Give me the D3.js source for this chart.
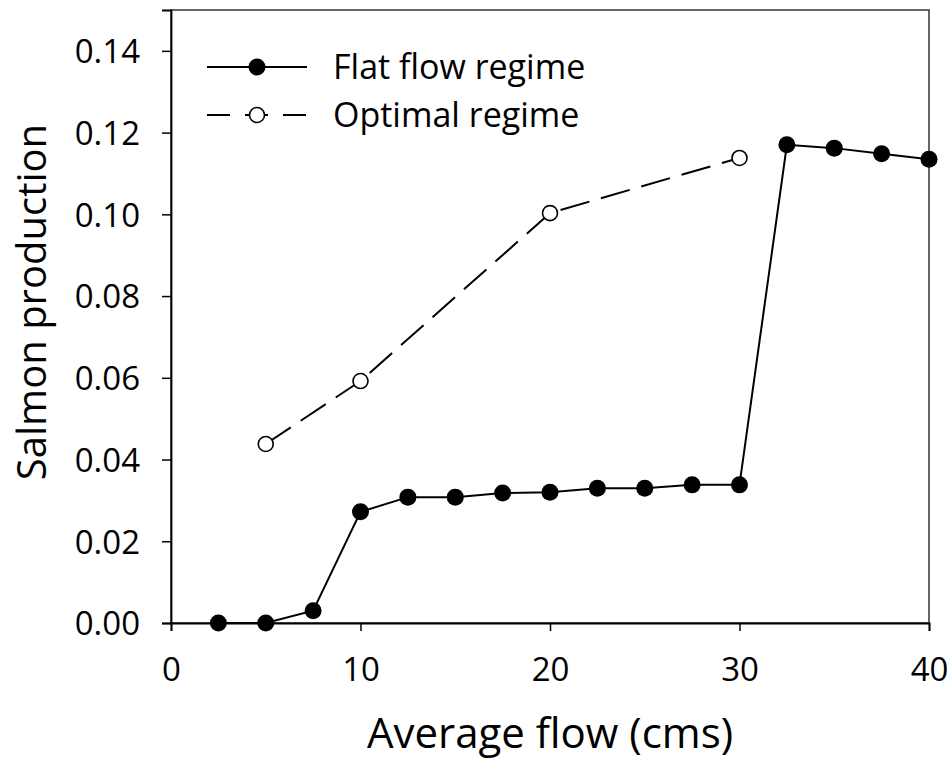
<!DOCTYPE html>
<html>
<head>
<meta charset="utf-8">
<script src="https://cdn.jsdelivr.net/npm/d3@7"></script>
<style>
  body { margin: 0; background: #fff; }
  svg text { font-family: "Open Sans", sans-serif; fill: #000; }
</style>
</head>
<body>
<svg id="chart" width="949" height="770"></svg>
<script>
const flatX = [2.5, 5, 7.5, 10, 12.5, 15, 17.5, 20, 22.5, 25, 27.5, 30, 32.5, 35, 37.5, 40];
const flatY = [0.0, 0.0, 0.003, 0.0272, 0.0308, 0.0308, 0.0318, 0.032, 0.033, 0.033, 0.0338, 0.0338, 0.117, 0.1162, 0.1148, 0.1135];
const optX = [5, 10, 20, 30];
const optY = [0.0438, 0.0592, 0.1003, 0.1138];
const xTicks = [0, 10, 20, 30, 40];
const yTicks = [0, 0.02, 0.04, 0.06, 0.08, 0.10, 0.12, 0.14];
const seriesNames = ["Flat flow regime", "Optimal regime"];

const svg = d3.select("#chart");
const L = 171, R = 929, T = 10, B = 623;
const x = d3.scaleLinear().domain([0, 40]).range([L, R]);
const y = d3.scaleLinear().domain([0, 0.15]).range([B, T]);

// frame (top & right)
svg.append("rect").attr("x", L).attr("y", T).attr("width", R - L).attr("height", B - T)
  .attr("fill", "none").attr("stroke", "#333").attr("stroke-width", 1.5);

// axes
const xAxis = d3.axisBottom(x).tickValues(xTicks).tickSize(8).tickPadding(26).tickFormat(d3.format("d"));
const gx = svg.append("g").attr("transform", `translate(0,${B})`).call(xAxis);
const yAxis = d3.axisLeft(y).tickValues(yTicks).tickSize(9).tickPadding(22).tickFormat(d3.format(".2f"));
const gy = svg.append("g").attr("transform", `translate(${L},0)`).call(yAxis);
[gx, gy].forEach(g => {
  g.select(".domain").attr("stroke", "#000").attr("stroke-width", 1.8);
  g.selectAll(".tick line").attr("stroke", "#000").attr("stroke-width", 1.5);
  g.selectAll(".tick text").style("font-family", "'Open Sans', sans-serif").style("font-size", "33px").attr("fill", "#000");
});
gy.selectAll(".tick text").attr("dy", "0.36em");
gx.selectAll(".tick text").attr("dy", "0.72em");

// axis titles
svg.append("text").attr("x", 550).attr("y", 748).attr("text-anchor", "middle")
  .style("font-size", "42px").text("Average flow (cms)");
svg.append("text").attr("transform", "translate(46,302) rotate(-90)").attr("text-anchor", "middle")
  .style("font-size", "40px").text("Salmon production");

const line = d3.line().x(d => x(d[0])).y(d => y(d[1]));
const flat = flatX.map((v, i) => [v, flatY[i]]);
const opt = optX.map((v, i) => [v, optY[i]]);

// optimal dashed line
svg.append("path").datum(opt).attr("d", line).attr("fill", "none")
  .attr("stroke", "#000").attr("stroke-width", 2).attr("stroke-dasharray", "30,12");
svg.selectAll("circle.opt").data(opt).join("circle").attr("class", "opt")
  .attr("cx", d => x(d[0])).attr("cy", d => y(d[1])).attr("r", 7.5)
  .attr("fill", "#fff").attr("stroke", "#000").attr("stroke-width", 1.6);

// flat solid line
svg.append("path").datum(flat).attr("d", line).attr("fill", "none")
  .attr("stroke", "#000").attr("stroke-width", 2);
svg.selectAll("circle.flat").data(flat).join("circle").attr("class", "flat")
  .attr("cx", d => x(d[0])).attr("cy", d => y(d[1])).attr("r", 8.5)
  .attr("fill", "#000");

// legend
const lg = svg.append("g");
lg.append("line").attr("x1", 207).attr("x2", 307).attr("y1", 67).attr("y2", 67)
  .attr("stroke", "#000").attr("stroke-width", 2);
lg.append("circle").attr("cx", 257).attr("cy", 67).attr("r", 8.5).attr("fill", "#000");
lg.append("text").attr("x", 333).attr("y", 79).style("font-size", "34px").text(seriesNames[0]);
lg.append("line").attr("x1", 207).attr("x2", 307).attr("y1", 115).attr("y2", 115)
  .attr("stroke", "#000").attr("stroke-width", 2).attr("stroke-dasharray", "23,15");
lg.append("circle").attr("cx", 257).attr("cy", 115).attr("r", 7.5)
  .attr("fill", "#fff").attr("stroke", "#000").attr("stroke-width", 1.6);
lg.append("text").attr("x", 333).attr("y", 127).style("font-size", "34px").text(seriesNames[1]);
</script>
</body>
</html>
